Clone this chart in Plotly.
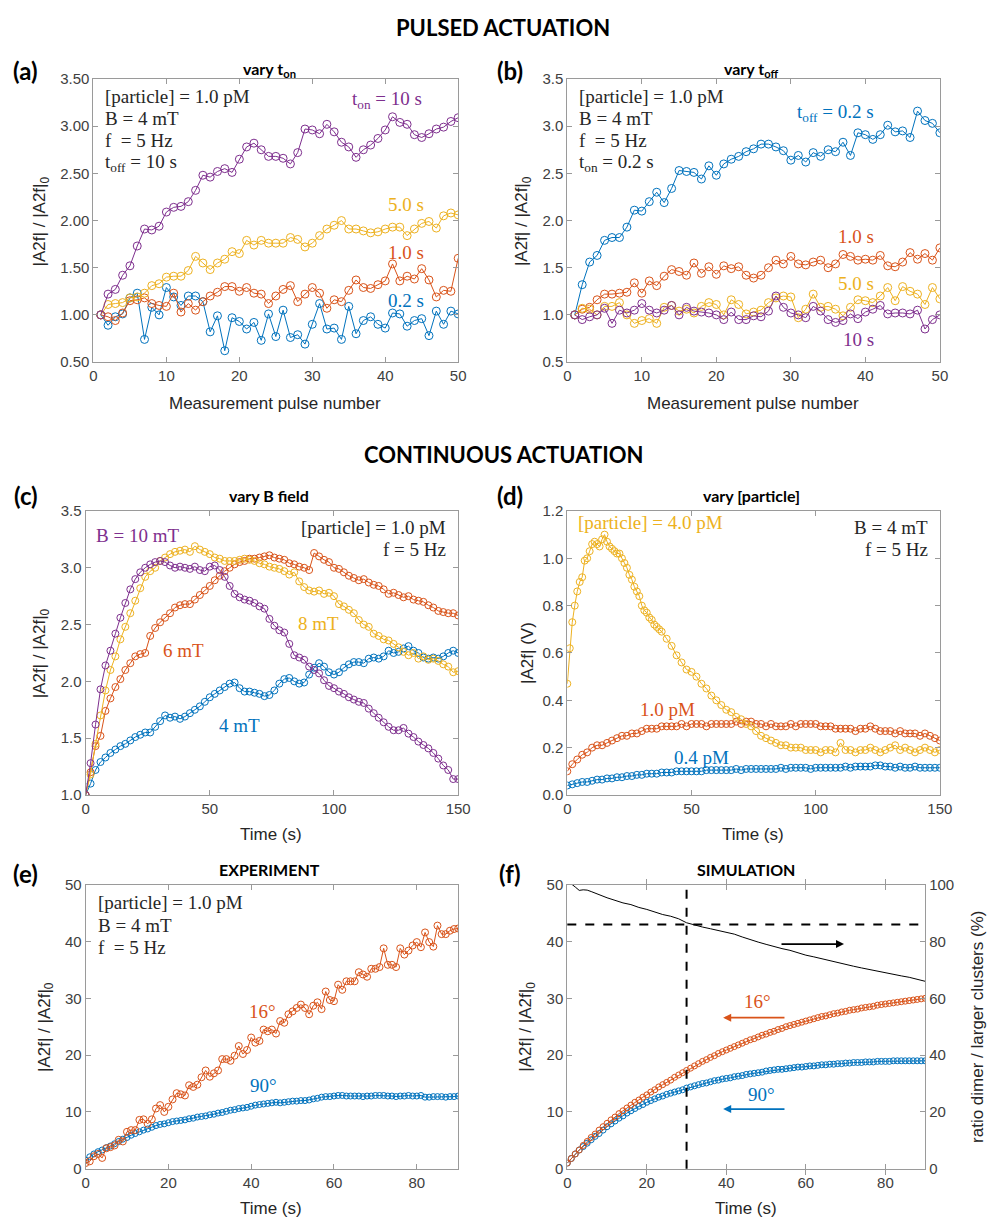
import plotly.graph_objects as go

W, H = 1004, 1229
BLUE, ORANGE, YELLOW, PURPLE = '#0072BD', '#D95319', '#EDB120', '#7E2F8E'

# ---------------- DATA ----------------
# (a) vary t_on
a_pulse = list(range(1, 51))
a_ton10 = [1.00,1.22,1.27,1.42,1.52,1.73,1.91,1.90,1.94,2.09,
           2.14,2.15,2.20,2.32,2.48,2.46,2.52,2.55,2.51,2.65,
           2.78,2.82,2.75,2.68,2.68,2.66,2.60,2.72,2.97,2.96,
           2.92,3.02,2.94,2.83,2.78,2.67,2.75,2.80,2.87,2.96,
           3.10,3.04,3.02,2.91,2.88,2.92,2.97,2.99,3.05,3.09]
a_ton5 = [1.00,1.11,1.12,1.13,1.18,1.19,1.23,1.31,1.33,1.40,
          1.41,1.41,1.47,1.62,1.55,1.48,1.55,1.59,1.67,1.65,
          1.79,1.74,1.79,1.76,1.76,1.76,1.82,1.80,1.72,1.76,
          1.84,1.91,1.95,2.00,1.91,1.91,1.89,1.87,1.88,1.91,
          1.93,1.93,1.84,1.91,1.97,1.99,1.92,2.05,2.08,2.06]
a_ton1 = [1.00,0.98,0.94,1.02,1.15,1.16,1.18,1.12,1.10,1.09,
          1.23,1.03,1.12,1.05,1.14,1.20,1.24,1.30,1.30,1.25,
          1.29,1.23,1.22,1.12,1.20,1.27,1.31,1.14,1.22,1.29,
          1.23,1.07,1.16,1.14,1.26,1.37,1.29,1.28,1.32,1.36,
          1.54,1.36,1.41,1.38,1.49,1.37,1.19,1.26,1.25,1.60]
a_ton02 = [1.00,0.89,0.98,1.01,1.18,1.23,0.74,1.08,1.00,1.29,
           1.19,1.10,1.20,1.20,1.14,0.82,0.99,0.62,0.97,0.93,
           0.85,0.92,0.73,1.01,0.77,1.05,0.76,0.79,0.69,0.90,
           1.12,0.85,0.86,0.74,1.09,0.80,0.94,0.98,0.90,0.86,
           1.02,1.01,0.88,0.94,0.96,0.78,1.04,0.90,1.04,1.01]

# (b) vary t_off
b_pulse = list(range(1, 51))
b_toff02 = [1.00,1.32,1.56,1.63,1.79,1.82,1.82,1.93,2.11,2.10,
            2.20,2.30,2.19,2.34,2.53,2.52,2.51,2.44,2.58,2.48,
            2.60,2.65,2.68,2.73,2.76,2.81,2.81,2.78,2.74,2.64,
            2.69,2.62,2.72,2.68,2.75,2.73,2.83,2.69,2.93,2.91,
            2.86,2.91,3.01,2.94,2.95,2.88,3.16,3.06,3.03,2.93]
b_toff1 = [1.00,1.06,1.08,1.16,1.22,1.22,1.23,1.24,1.34,1.23,
           1.36,1.31,1.41,1.48,1.46,1.42,1.55,1.44,1.51,1.43,
           1.52,1.49,1.51,1.42,1.39,1.42,1.50,1.58,1.54,1.62,
           1.54,1.53,1.56,1.58,1.50,1.54,1.64,1.62,1.58,1.59,
           1.58,1.63,1.52,1.51,1.56,1.66,1.59,1.65,1.58,1.71]
b_toff5 = [1.00,1.07,1.06,1.00,1.09,1.09,1.13,1.00,0.91,0.94,
           0.96,0.91,1.08,1.10,1.04,1.06,1.02,1.09,1.13,1.11,
           1.00,1.16,1.11,1.01,1.03,1.05,1.13,1.18,1.20,1.19,
           0.97,1.06,1.22,1.08,1.09,1.06,0.99,1.08,1.16,1.15,
           1.13,1.20,1.29,1.15,1.30,1.25,1.22,1.11,1.29,1.17]
b_toff10 = [1.00,0.95,0.98,1.00,1.07,0.91,1.05,1.02,1.05,1.12,
            1.05,1.02,1.05,1.10,1.00,1.08,1.04,1.03,1.02,1.00,
            0.95,1.03,0.95,0.95,0.99,0.98,1.04,1.20,1.08,1.02,
            1.00,0.97,1.09,1.04,0.95,0.92,0.94,1.01,0.96,1.03,
            1.06,1.10,1.01,1.02,1.02,1.01,1.05,0.85,0.95,1.00]

# (c) vary B field, time 0..150 s every 2 s
c_time = list(range(0, 151, 2))
c_B10 = [1.00,1.28,1.62,1.93,2.14,2.27,2.42,2.56,2.69,2.81,
         2.90,2.96,3.00,3.03,3.05,3.06,3.05,3.02,3.00,3.01,
         3.00,2.99,3.01,2.98,2.97,3.01,3.02,2.98,2.92,2.84,
         2.77,2.74,2.72,2.71,2.69,2.66,2.64,2.55,2.49,2.45,
         2.43,2.33,2.23,2.21,2.19,2.13,2.10,2.07,2.01,1.96,
         1.94,1.91,1.89,1.86,1.84,1.82,1.81,1.76,1.72,1.68,
         1.64,1.60,1.57,1.57,1.59,1.54,1.51,1.47,1.44,1.41,
         1.37,1.32,1.26,1.22,1.14,1.14]
c_B8 = [1.00,1.18,1.45,1.70,1.92,2.10,2.22,2.37,2.48,2.60,
        2.71,2.82,2.92,2.97,3.00,3.06,3.09,3.12,3.14,3.15,
        3.16,3.14,3.19,3.16,3.14,3.12,3.09,3.08,3.06,3.06,
        3.06,3.07,3.08,3.07,3.06,3.04,3.03,3.01,3.00,2.99,
        2.97,2.94,2.96,2.88,2.83,2.80,2.79,2.80,2.77,2.78,
        2.75,2.68,2.66,2.63,2.60,2.54,2.50,2.48,2.42,2.40,
        2.37,2.36,2.33,2.30,2.26,2.23,2.25,2.20,2.22,2.19,
        2.20,2.18,2.15,2.13,2.08,2.09]
c_B6 = [1.00,1.20,1.43,1.52,1.74,1.85,1.95,2.02,2.10,2.16,
        2.22,2.24,2.25,2.40,2.47,2.52,2.56,2.60,2.65,2.67,
        2.68,2.68,2.72,2.76,2.80,2.84,2.89,2.93,2.97,3.00,
        3.03,3.05,3.06,3.08,3.08,3.09,3.10,3.11,3.09,3.08,
        3.07,3.04,3.03,3.01,3.00,2.98,3.13,3.10,3.07,3.05,
        3.00,2.99,2.96,2.93,2.91,2.89,2.90,2.87,2.85,2.84,
        2.81,2.77,2.78,2.76,2.74,2.75,2.72,2.71,2.70,2.67,
        2.65,2.62,2.61,2.60,2.60,2.58]
c_B4 = [1.00,1.10,1.22,1.29,1.33,1.37,1.40,1.43,1.45,1.48,
        1.51,1.53,1.55,1.55,1.60,1.65,1.70,1.68,1.69,1.67,
        1.69,1.72,1.75,1.78,1.82,1.86,1.89,1.92,1.95,1.98,
        1.99,1.94,1.91,1.91,1.90,1.89,1.87,1.88,1.92,1.98,
        2.02,2.03,2.00,1.98,1.99,2.06,2.12,2.16,2.13,2.08,
        2.06,2.08,2.12,2.15,2.17,2.17,2.16,2.20,2.21,2.20,
        2.22,2.27,2.25,2.26,2.29,2.31,2.27,2.25,2.21,2.20,
        2.21,2.20,2.22,2.25,2.27,2.25]

# (d) vary [particle]
d_time_40 = list(range(0, 39)) + list(range(40, 151, 2))
d_p40 = [0.47,0.62,0.73,0.80,0.86,0.90,0.92,0.99,1.00,1.03,
         1.06,1.07,1.06,1.05,1.08,1.10,1.07,1.05,1.04,1.03,
         1.02,1.02,1.00,0.98,0.96,0.93,0.91,0.88,0.86,0.84,
         0.80,0.78,0.77,0.75,0.74,0.72,0.71,0.70,0.69,
         0.66,0.63,0.59,0.56,0.53,0.52,0.50,0.47,0.45,0.42,
         0.40,0.38,0.36,0.35,0.33,0.32,0.30,0.29,0.27,0.25,
         0.24,0.23,0.22,0.21,0.21,0.20,0.20,0.20,0.19,0.19,
         0.19,0.18,0.19,0.19,0.18,0.22,0.19,0.19,0.18,0.19,
         0.19,0.20,0.19,0.18,0.19,0.20,0.21,0.19,0.20,0.19,
         0.18,0.19,0.20,0.19,0.18,0.19]
d_time = list(range(0, 151, 2))
d_p10 = [0.10,0.13,0.15,0.17,0.18,0.20,0.21,0.21,0.22,0.23,
         0.24,0.25,0.25,0.26,0.26,0.27,0.28,0.28,0.28,0.29,
         0.29,0.29,0.29,0.30,0.29,0.30,0.30,0.30,0.29,0.30,
         0.30,0.30,0.30,0.30,0.31,0.30,0.31,0.31,0.30,0.30,
         0.29,0.30,0.29,0.29,0.29,0.30,0.29,0.30,0.30,0.30,
         0.30,0.29,0.29,0.29,0.28,0.28,0.28,0.28,0.27,0.28,
         0.28,0.29,0.28,0.27,0.27,0.27,0.26,0.27,0.26,0.26,
         0.26,0.25,0.26,0.25,0.24,0.23]
d_p04 = [0.040,0.045,0.050,0.055,0.055,0.060,0.065,0.065,0.070,0.070,
         0.075,0.075,0.080,0.080,0.085,0.085,0.090,0.090,0.090,0.095,
         0.095,0.095,0.100,0.100,0.100,0.100,0.100,0.100,0.105,0.105,
         0.105,0.105,0.105,0.105,0.110,0.105,0.110,0.110,0.110,0.110,
         0.110,0.110,0.110,0.115,0.110,0.115,0.115,0.115,0.115,0.110,
         0.115,0.115,0.115,0.115,0.115,0.115,0.120,0.115,0.120,0.120,
         0.120,0.120,0.125,0.125,0.120,0.120,0.115,0.120,0.115,0.115,
         0.120,0.115,0.115,0.115,0.115,0.115]

# (e) experiment
e_time = list(range(0, 91))
e_16 = [1.0,1.3,2.2,2.6,1.9,3.6,3.8,4.1,5.1,4.8,
        6.5,6.8,6.8,8.6,8.7,7.9,8.7,10.6,11.2,10.0,
        10.9,12.2,13.3,13.1,12.9,14.7,14.4,14.8,16.1,17.3,
        16.2,16.8,17.3,19.3,19.3,19.0,19.9,21.6,20.2,20.9,
        23.1,22.2,22.5,24.5,24.2,24.5,23.8,26.0,25.7,27.2,
        27.7,28.3,28.9,28.3,27.2,28.7,29.3,28.1,31.2,29.7,
        29.5,32.4,31.5,33.0,33.0,33.0,34.6,34.2,33.8,35.2,
        35.2,35.5,38.8,35.9,35.9,35.5,38.8,37.7,38.4,39.3,
        39.9,39.0,41.6,39.9,39.1,42.8,41.3,41.3,41.9,42.2,
        42.3]
e_90 = [1.5,2.1,2.6,3.0,3.3,3.7,4.0,4.4,4.8,5.2,
        5.5,5.9,6.2,6.5,6.8,7.0,7.3,7.6,7.8,7.9,
        8.1,8.3,8.4,8.5,8.6,8.8,8.9,9.1,9.2,9.3,
        9.5,9.6,9.8,9.9,10.1,10.3,10.4,10.6,10.7,10.8,
        11.0,11.2,11.3,11.4,11.5,11.6,11.7,11.6,11.7,11.8,
        11.9,11.9,12.0,12.0,12.1,12.3,12.4,12.6,12.7,12.7,
        12.8,12.9,12.9,12.8,12.8,12.8,12.8,12.7,12.8,12.8,
        12.9,12.9,12.9,12.8,12.8,12.7,12.8,12.8,12.9,12.8,
        12.8,12.9,12.6,12.6,12.7,12.7,12.7,12.6,12.7,12.7,
        12.8]

# (f) simulation
f_time = list(range(0, 91))
f_16 = [1.0,1.8,2.6,3.3,4.1,4.8,5.5,6.1,6.8,7.4,
        8.0,8.6,9.1,9.7,10.2,10.7,11.2,11.7,12.1,12.6,
        13.0,13.5,13.9,14.4,14.8,15.2,15.6,16.1,16.5,16.9,
        17.3,17.7,18.1,18.5,18.9,19.2,19.6,19.9,20.3,20.6,
        20.9,21.2,21.5,21.8,22.1,22.4,22.7,22.9,23.2,23.5,
        23.7,24.0,24.2,24.5,24.7,25.0,25.2,25.4,25.6,25.8,
        26.0,26.2,26.4,26.6,26.8,26.9,27.1,27.3,27.4,27.6,
        27.7,27.9,28.0,28.1,28.3,28.4,28.5,28.6,28.8,28.9,
        29.0,29.1,29.2,29.3,29.4,29.5,29.6,29.7,29.8,29.9,
        30.0]
f_90 = [1.0,1.8,2.6,3.3,3.9,4.5,5.1,5.7,6.2,6.8,
        7.4,7.9,8.4,8.9,9.3,9.8,10.2,10.6,11.0,11.3,
        11.7,12.0,12.3,12.6,12.8,13.1,13.3,13.5,13.7,13.9,
        14.2,14.4,14.6,14.8,15.0,15.1,15.3,15.5,15.6,15.8,
        15.9,16.0,16.2,16.3,16.4,16.6,16.7,16.8,16.9,17.0,
        17.2,17.3,17.4,17.5,17.5,17.6,17.7,17.8,17.9,17.9,
        18.0,18.1,18.1,18.2,18.3,18.3,18.4,18.4,18.5,18.5,
        18.6,18.6,18.7,18.7,18.7,18.8,18.8,18.8,18.9,18.9,
        18.9,18.9,19.0,19.0,19.0,19.0,19.0,19.0,19.0,19.0,
        19.0]
f_ratio_time = [0,1,2,3,4,5,6,7,8,9,10,12,14,16,18,20,22,24,26,28,30,
                32,34,36,38,40,42,44,46,48,50,52,54,56,58,60,62,64,66,68,70,
                72,74,76,78,80,82,84,86,88,90]
f_ratio = [101.0,100.3,99.2,98.0,98.2,98.1,97.6,97.0,96.5,96.0,95.4,94.5,93.6,93.0,92.0,91.3,
           90.3,89.5,88.9,88.0,86.6,85.8,85.1,84.5,83.9,83.2,82.6,81.6,80.6,79.8,79.0,
           78.2,77.5,76.9,76.0,75.2,74.6,73.9,73.2,72.5,71.9,71.3,70.7,70.1,69.6,69.0,
           68.5,67.9,67.4,66.8,66.0]
f_mark_time = 30      # vertical dashed line (s)
f_mark_ratio = 86     # horizontal dashed line (%)

# ---------------- FIGURE ----------------
fig = go.Figure()

# plot-area pixel boxes: (left, right, top, bottom)
boxes = {1: (91, 462, 71, 358), 2: (573, 952, 71, 358),
         3: (83, 462, 509, 797), 4: (573, 952, 509, 797),
         5: (83, 462, 888, 1176), 6: (573, 937, 888, 1176)}

TICKFONT = dict(family='Liberation Sans, Arial', size=15, color='#404040')
LINEC = '#9a9a9a'


def axname(i, kind):
    return kind if i == 1 else f'{kind}{i}'


def add_series(i, x, y, color, size=7, yaxis=None):
    fig.add_trace(go.Scatter(
        x=x, y=y, mode='lines+markers',
        line=dict(color=color, width=1),
        marker=dict(symbol='circle-open', size=size, color=color, line=dict(width=1, color=color)),
        xaxis=axname(i, 'x'), yaxis=yaxis or axname(i, 'y'), showlegend=False,
        hoverinfo='skip'))


add_series(1, a_pulse, a_ton02, BLUE, 8)
add_series(1, a_pulse, a_ton1, ORANGE, 8)
add_series(1, a_pulse, a_ton5, YELLOW, 8)
add_series(1, a_pulse, a_ton10, PURPLE, 8)

add_series(2, b_pulse, b_toff02, BLUE, 8)
add_series(2, b_pulse, b_toff1, ORANGE, 8)
add_series(2, b_pulse, b_toff5, YELLOW, 8)
add_series(2, b_pulse, b_toff10, PURPLE, 8)

add_series(3, c_time, c_B4, BLUE)
add_series(3, c_time, c_B6, ORANGE)
add_series(3, c_time, c_B8, YELLOW)
add_series(3, c_time, c_B10, PURPLE)

add_series(4, d_time, d_p04, BLUE)
add_series(4, d_time, d_p10, ORANGE)
add_series(4, d_time_40, d_p40, YELLOW)

add_series(5, e_time, e_90, BLUE, 6)
add_series(5, e_time, e_16, ORANGE, 7)

add_series(6, f_time, f_90, BLUE, 6)
add_series(6, f_time, f_16, ORANGE, 6)
fig.add_trace(go.Scatter(x=f_ratio_time, y=f_ratio, mode='lines',
                         line=dict(color='black', width=1),
                         xaxis='x6', yaxis='y7', showlegend=False, hoverinfo='skip'))

axis_specs = {
    1: dict(xr=[0, 50], xd=10, yr=[0.5, 3.5], yd=0.5, yfmt='.2f'),
    2: dict(xr=[0, 50], xd=10, yr=[0.5, 3.5], yd=0.5, yfmt='.1f'),
    3: dict(xr=[0, 150], xd=50, yr=[1.0, 3.5], yd=0.5, yfmt='.1f'),
    4: dict(xr=[0, 150], xd=50, yr=[0.0, 1.2], yd=0.2, yfmt='.1f'),
    5: dict(xr=[0, 90], xd=20, yr=[0, 50], yd=10, yfmt='d'),
    6: dict(xr=[0, 90], xd=20, yr=[0, 50], yd=10, yfmt='d'),
}

layout_axes = {}
for i, (l, r, t, b) in boxes.items():
    s = axis_specs[i]
    common = dict(showline=True, linecolor=LINEC, linewidth=1, ticks='inside', ticklen=5,
                  tickcolor=LINEC, tickfont=TICKFONT, showgrid=False, zeroline=False)
    layout_axes['xaxis' if i == 1 else f'xaxis{i}'] = dict(
        common, domain=[l / W, r / W], range=s['xr'], dtick=s['xd'], tick0=0,
        anchor=axname(i, 'y'), mirror='allticks')
    layout_axes['yaxis' if i == 1 else f'yaxis{i}'] = dict(
        common, domain=[1 - b / H, 1 - t / H], range=s['yr'], dtick=s['yd'], tick0=0,
        tickformat=s['yfmt'], anchor=axname(i, 'x'),
        mirror=False if i == 6 else 'allticks')
layout_axes['yaxis7'] = dict(showline=True, linecolor=LINEC, linewidth=1, ticks='inside', ticklen=5,
                             tickcolor=LINEC, tickfont=TICKFONT, showgrid=False, zeroline=False,
                             overlaying='y6', side='right', anchor='x6', range=[0, 100], dtick=20)

fig.update_layout(width=W, height=H, margin=dict(l=0, r=0, t=0, b=0),
                  paper_bgcolor='white', plot_bgcolor='white', **layout_axes)

ann = []
SERIF = 'Liberation Serif, Times New Roman, serif'
SANS = 'Liberation Sans, Arial'
BOLD = 'Lato, Open Sans, sans-serif'


def paper_text(px, py, text, size, family=SANS, color='#262626', angle=0, xanchor='center'):
    ann.append(dict(x=px / W, y=1 - py / H, xref='paper', yref='paper', text=text, showarrow=False,
                    font=dict(family=family, size=size, color=color), textangle=angle,
                    xanchor=xanchor, yanchor='middle'))


def data_text(i, x, y, text, color='#262626', xanchor='left', size=19, yref=None):
    ann.append(dict(x=x, y=y, xref=axname(i, 'x'), yref=yref or axname(i, 'y'), text=text,
                    showarrow=False, font=dict(family=SERIF, size=size, color=color),
                    xanchor=xanchor, yanchor='middle'))


# section headers and panel letters/titles
paper_text(508, 19, '<b>PULSED ACTUATION</b>', 22, BOLD, '#000000')
paper_text(508, 452, '<b>CONTINUOUS ACTUATION</b>', 22, BOLD, '#000000')
for letter, px, py in [('(a)', 22, 62), ('(b)', 515, 62), ('(c)', 22, 493), ('(d)', 515, 493),
                       ('(e)', 22, 877), ('(f)', 515, 877)]:
    paper_text(px, py, f'<b>{letter}</b>', 24, BOLD, '#000000')
for title, px, py in [('vary t<sub>on</sub>', 270, 61), ('vary t<sub>off</sub>', 760, 61),
                      ('vary B field', 270, 493), ('vary [particle]', 760, 493),
                      ('EXPERIMENT', 270, 873), ('SIMULATION', 755, 873)]:
    paper_text(px, py, f'<b>{title}</b>', 16, BOLD, '#000000')

# axis titles
YT = '|A2f| / |A2f|<sub>0</sub>'
paper_text(38, 215, YT, 17, angle=-90)
paper_text(528, 215, YT, 17, angle=-90)
paper_text(38, 653, YT, 17, angle=-90)
paper_text(533, 653, '|A2f| (V)', 17, angle=-90)
paper_text(42, 1032, YT, 17, angle=-90)
paper_text(532, 1032, YT, 17, angle=-90)
paper_text(990, 1032, 'ratio dimer / larger clusters (%)', 17, angle=-90)
paper_text(276, 400, 'Measurement pulse number', 17)
paper_text(762, 400, 'Measurement pulse number', 17)
paper_text(272, 837, 'Time (s)', 17)
paper_text(762, 837, 'Time (s)', 17)
paper_text(272, 1216, 'Time (s)', 17)
paper_text(755, 1216, 'Time (s)', 17)

# panel (a) texts
for yv, txt in zip([3.31, 3.08, 2.85, 2.61],
                   ['[particle] = 1.0 pM', 'B = 4 mT', 'f  = 5 Hz', 't<sub>off</sub> = 10 s']):
    data_text(1, 1.3, yv, txt)
data_text(1, 40.2, 3.28, 't<sub>on</sub> = 10 s', PURPLE, 'center')
data_text(1, 42.8, 2.17, '5.0 s', YELLOW, 'center')
data_text(1, 42.8, 1.66, '1.0 s', ORANGE, 'center')
data_text(1, 42.8, 1.15, '0.2 s', BLUE, 'center')

# panel (b) texts
for yv, txt in zip([3.31, 3.08, 2.85, 2.61],
                   ['[particle] = 1.0 pM', 'B = 4 mT', 'f  = 5 Hz', 't<sub>on</sub> = 0.2 s']):
    data_text(2, 1.3, yv, txt)
data_text(2, 36.0, 3.14, 't<sub>off</sub> = 0.2 s', BLUE, 'center')
data_text(2, 38.8, 1.83, '1.0 s', ORANGE, 'center')
data_text(2, 38.8, 1.33, '5.0 s', YELLOW, 'center')
data_text(2, 39.1, 0.74, '10 s', PURPLE, 'center')

# panel (c) texts
data_text(3, 146, 3.35, '[particle] = 1.0 pM', xanchor='right')
data_text(3, 146, 3.16, 'f = 5 Hz', xanchor='right')
data_text(3, 20.7, 3.28, 'B = 10 mT', PURPLE, 'center')
data_text(3, 39.6, 2.27, '6 mT', ORANGE, 'center')
data_text(3, 93.8, 2.51, '8 mT', YELLOW, 'center')
data_text(3, 61.8, 1.61, '4 mT', BLUE, 'center')

# panel (d) texts
data_text(4, 146, 1.128, 'B = 4 mT', xanchor='right')
data_text(4, 146, 1.037, 'f = 5 Hz', xanchor='right')
data_text(4, 33.4, 1.15, '[particle] = 4.0 pM', YELLOW, 'center')
data_text(4, 40.3, 0.36, '1.0 pM', ORANGE, 'center')
data_text(4, 54.0, 0.16, '0.4 pM', BLUE, 'center')

# panel (e) texts
for yv, txt in zip([46.8, 42.9, 39.0], ['[particle] = 1.0 pM', 'B = 4 mT', 'f  = 5 Hz']):
    data_text(5, 2.5, yv, txt)
data_text(5, 42.8, 27.7, '16°', ORANGE, 'center')
data_text(5, 42.9, 14.7, '90°', BLUE, 'center')

# panel (f) texts and arrows
data_text(6, 47.8, 29.4, '16°', ORANGE, 'center')
data_text(6, 48.8, 13.1, '90°', BLUE, 'center')
f_arrows = [  # (tip_t, tail_t, level, color, yaxis)
    (39.2, 55.0, 26.6, ORANGE, 'y6'),
    (39.2, 55.0, 10.5, BLUE, 'y6'),
    (69.6, 53.5, 79.1, 'black', 'y7'),
]
for tip, tail, lvl, col, ya in f_arrows:
    ann.append(dict(x=tip, y=lvl, ax=tail, ay=lvl, xref='x6', yref=ya, axref='x6', ayref=ya,
                    showarrow=True, arrowhead=2, arrowsize=1, arrowwidth=1.6, arrowcolor=col,
                    text=''))

fig.update_layout(annotations=ann)

fig.add_shape(type='line', xref='x6', yref='y6 domain', x0=f_mark_time, x1=f_mark_time, y0=0, y1=1,
              line=dict(color='black', width=2, dash='dash'))
fig.add_shape(type='line', xref='x6 domain', yref='y7', x0=0, x1=1, y0=f_mark_ratio, y1=f_mark_ratio,
              line=dict(color='black', width=2, dash='dash'))

fig.write_html('out.html')
